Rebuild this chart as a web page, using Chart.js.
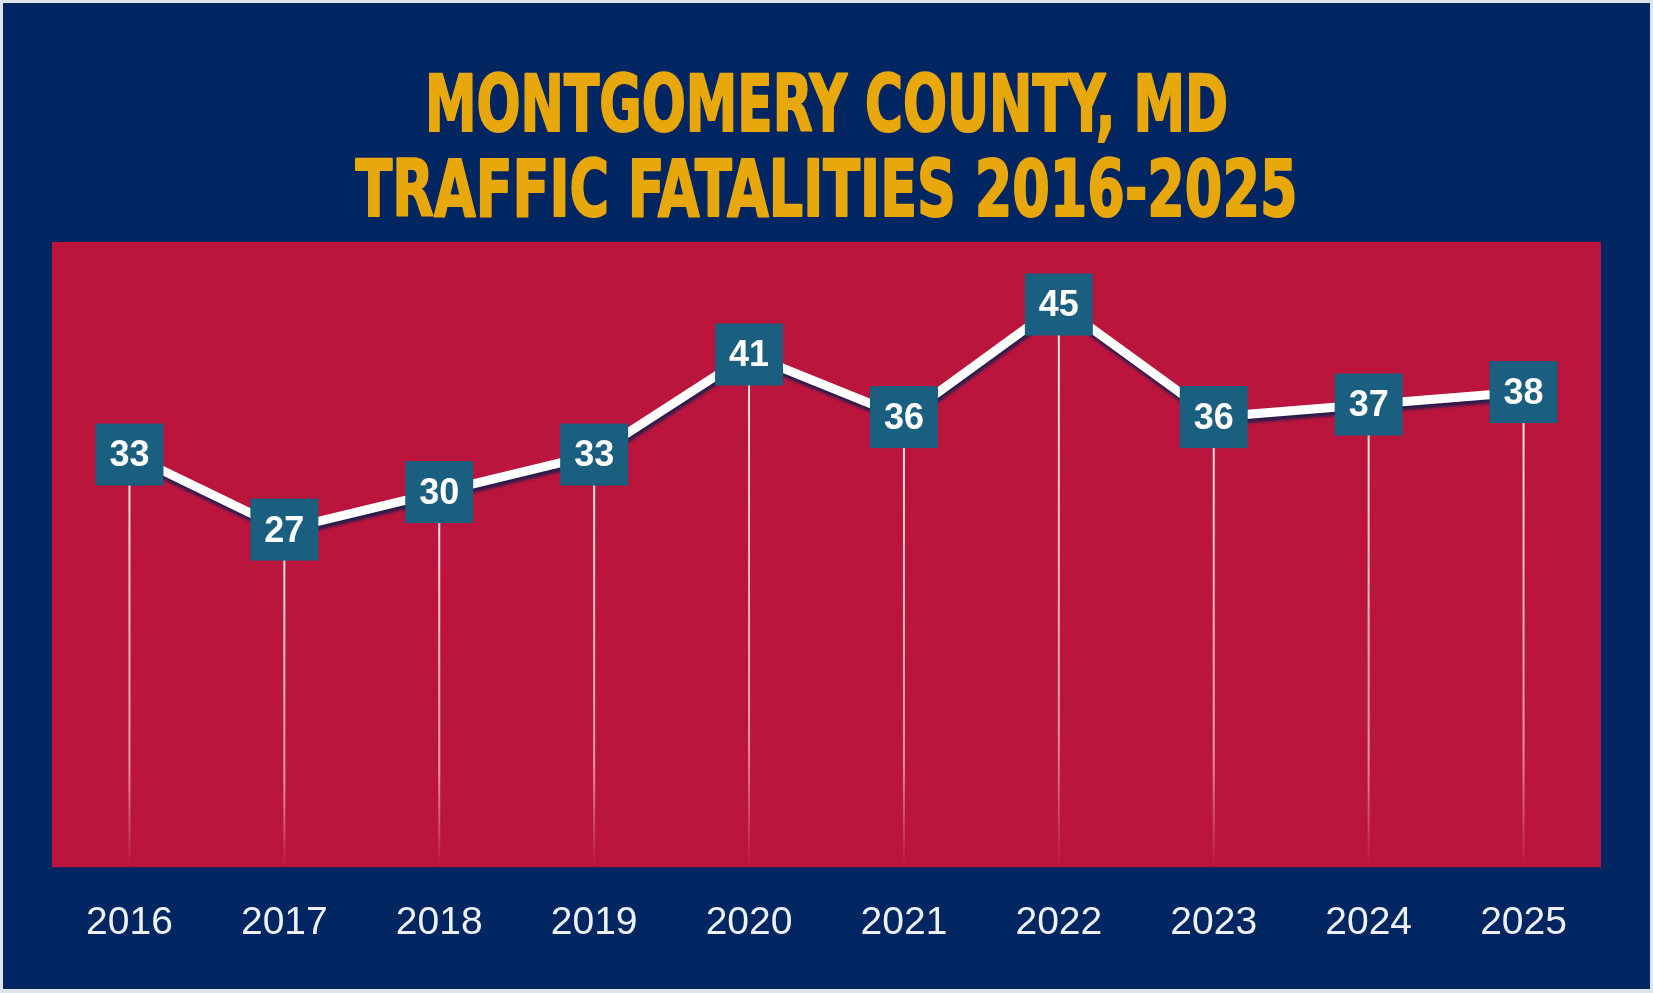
<!DOCTYPE html>
<html>
<head>
<meta charset="utf-8">
<script src="https://cdn.jsdelivr.net/npm/chart.js@4"></script>
<style>
  html, body { margin: 0; padding: 0; background: #dfe5ec; }
  #wrap { position: absolute; left: 3px; top: 3px; width: 1647px; height: 986px; background: #022662; }
</style>
</head>
<body>
<div id="wrap"><canvas id="fatal-chart"></canvas></div>
<script>
const years = ['2016', '2017', '2018', '2019', '2020', '2021', '2022', '2023', '2024', '2025'];
const fatalities = [33, 27, 30, 33, 41, 36, 45, 36, 37, 38];
const titleLines = ['MONTGOMERY COUNTY, MD', 'TRAFFIC FATALITIES 2016-2025'];

const navy = '#022662';
const red = '#bb153e';
const boxBlue = '#1a5e80';
const gold = '#e8a80b';

// condensed two-line heading, squeezed to the width of the original lettering
const heading = {
  id: 'heading',
  afterDraw(chart) {
    const ctx = chart.ctx;
    const cx = chart.width / 2;
    const rows = [{ y: 108, w: 803 }, { y: 193, w: 942 }];
    ctx.save();
    ctx.fillStyle = gold;
    ctx.strokeStyle = gold;
    ctx.lineWidth = 2;
    ctx.lineJoin = 'round';
    ctx.font = 'bold 78px "DejaVu Sans Condensed", "DejaVu Sans", sans-serif';
    ctx.textAlign = 'center';
    ctx.textBaseline = 'middle';
    titleLines.forEach((t, i) => {
      const sx = rows[i].w / ctx.measureText(t).width;
      ctx.save();
      ctx.translate(cx, rows[i].y);
      ctx.scale(sx, 1);
      ctx.fillText(t, 0, 0);
      ctx.strokeText(t, 0, 0);
      ctx.restore();
    });
    ctx.restore();
  }
};

// red panel behind the plot, drop lines, line shadow and value boxes
const decor = {
  id: 'decor',
  beforeDraw(chart) {
    const { ctx, chartArea: a } = chart;
    ctx.save();
    ctx.fillStyle = red;
    ctx.fillRect(a.left, a.top, a.width, a.height);
    ctx.restore();
  },
  beforeDatasetsDraw(chart) {
    const { ctx, chartArea: a } = chart;
    const pts = chart.getDatasetMeta(0).data;
    ctx.save();
    pts.forEach(p => {
      const g = ctx.createLinearGradient(0, p.y, 0, a.bottom);
      g.addColorStop(0, 'rgba(255,255,255,0.9)');
      g.addColorStop(0.75, 'rgba(255,255,255,0.55)');
      g.addColorStop(1, 'rgba(255,255,255,0)');
      ctx.strokeStyle = g;
      ctx.lineWidth = 2;
      ctx.beginPath();
      ctx.moveTo(p.x, p.y);
      ctx.lineTo(p.x, a.bottom);
      ctx.stroke();
    });
    ctx.restore();
  },
  beforeDatasetDraw(chart) {
    const ctx = chart.ctx;
    ctx.save();
    ctx.shadowColor = 'rgba(8,30,80,0.8)';
    ctx.shadowOffsetY = 4;
    ctx.shadowOffsetX = 1;
    ctx.shadowBlur = 3;
  },
  afterDatasetDraw(chart) {
    chart.ctx.restore();
  },
  afterDatasetsDraw(chart) {
    const ctx = chart.ctx;
    const pts = chart.getDatasetMeta(0).data;
    const w = 68, h = 62;
    ctx.save();
    pts.forEach((p, i) => {
      ctx.fillStyle = boxBlue;
      ctx.fillRect(p.x - w / 2, p.y - h / 2, w, h);
      ctx.fillStyle = '#ffffff';
      ctx.font = 'bold 36px "Liberation Sans", Arial, sans-serif';
      ctx.textAlign = 'center';
      ctx.textBaseline = 'middle';
      ctx.fillText(String(fatalities[i]), p.x, p.y + 2);
    });
    ctx.restore();
  }
};

new Chart(document.getElementById('fatal-chart'), {
  type: 'line',
  data: {
    labels: years,
    datasets: [{
      data: fatalities,
      borderColor: '#ffffff',
      borderWidth: 9,
      pointRadius: 0,
      tension: 0
    }]
  },
  options: {
    responsive: true,
    maintainAspectRatio: false,
    animation: false,
    layout: {
      padding: { left: 49, right: 49, top: 239, bottom: 9 }
    },
    plugins: {
      legend: false,
      tooltip: { enabled: false },
      title: { display: false }
    },
    scales: {
      x: {
        offset: true,
        grid: { display: false, drawTicks: false },
        border: { display: false },
        ticks: {
          color: '#eef2f7',
          padding: 33,
          font: { family: '"Liberation Sans", Arial, sans-serif', size: 39 }
        }
      },
      y: {
        display: false,
        min: 0,
        max: 50
      }
    }
  },
  plugins: [decor, heading]
});
</script>
</body>
</html>
